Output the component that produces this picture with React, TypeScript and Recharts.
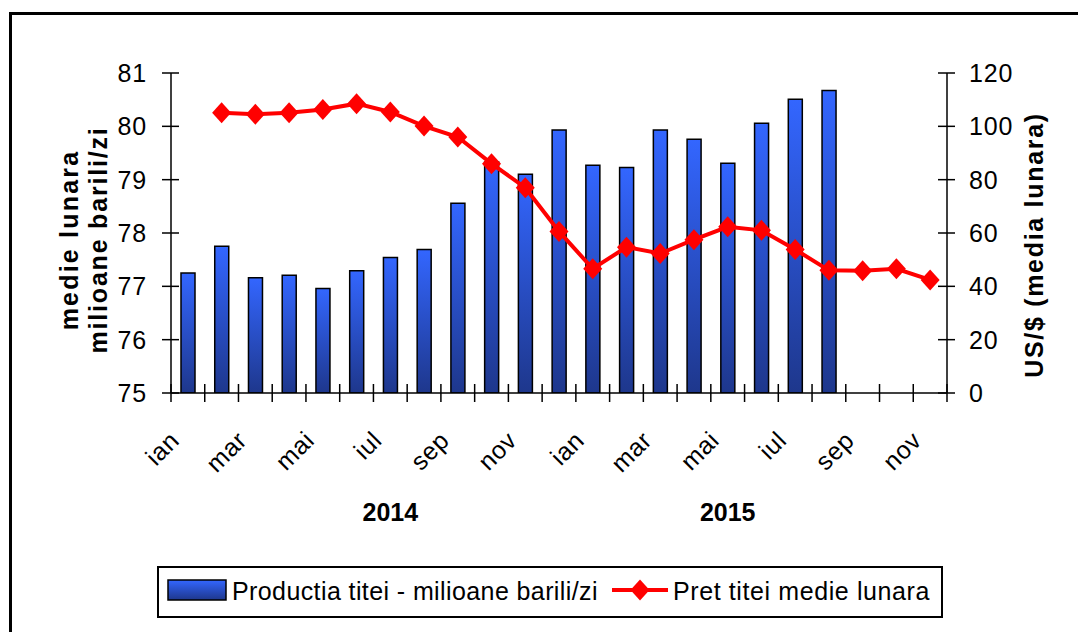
import React from 'react';
import { ComposedChart, Bar, Line, XAxis, YAxis } from 'recharts';

const months = ['ian', 'feb', 'mar', 'apr', 'mai', 'iun', 'iul', 'aug', 'sep', 'oct', 'nov', 'dec',
  'ian', 'feb', 'mar', 'apr', 'mai', 'iun', 'iul', 'aug', 'sep', 'oct', 'nov'];
const production = [77.25, 77.75, 77.16, 77.21, 76.96, 77.29, 77.54, 77.69, 78.56, 79.33, 79.1, 79.93,
  79.27, 79.23, 79.93, 79.76, 79.31, 80.06, 80.51, 80.67, null, null, null];
const price = [null, 105.1, 104.5, 105.1, 106.3, 108.5, 105.4, 100.1, 96.0, 86.0, 77.0, 60.6,
  46.6, 54.7, 52.3, 57.5, 62.3, 61.0, 53.8, 46.0, 45.8, 46.6, 42.4];
const years = ['2014', '2015'];
const yearCategory = [6, 16];
const leftTicks = [75, 76, 77, 78, 79, 80, 81];
const rightTicks = [0, 20, 40, 60, 80, 100, 120];

const seriesNames = ['Productia titei - milioane barili/zi', 'Pret titei medie lunara'];

const data = months.map((m, i) => ({ idx: i, month: m, production: production[i], price: price[i] }));

const W = 1078;
const H = 632;
const LEFT_W = 171;
const RIGHT_W = 131;
const TOP = 73;
const XAXIS_H = 239;
const PLOT_W = W - LEFT_W - RIGHT_W;
const BAND = PLOT_W / months.length;
const FONT = "'Liberation Sans', Arial, sans-serif";

const XTick = (props: any) => {
  const { x, y, payload } = props;
  const i = payload.value as number;
  const half = BAND / 2;
  return (
    <g>
      <line x1={x - half} x2={x - half} y1={y - 9} y2={y + 9} stroke="#000" strokeWidth={1.5} />
      {i === months.length - 1 && (
        <line x1={x + half} x2={x + half} y1={y - 9} y2={y + 9} stroke="#000" strokeWidth={1.5} />
      )}
      {i % 2 === 0 && (
        <text
          x={x - 7}
          y={y + 49}
          transform={`rotate(-45 ${x - 7} ${y + 49})`}
          textAnchor="end"
          fontFamily={FONT}
          fontSize={25}
          letterSpacing={0.6}
          fill="#000"
        >
          {months[i]}
        </text>
      )}
    </g>
  );
};

const LeftTick = (props: any) => {
  const { x, y, payload } = props;
  const ax = x + 24;
  return (
    <g>
      <line x1={ax - 9} x2={ax + 8} y1={y} y2={y} stroke="#000" strokeWidth={1.5} />
      <text x={x} y={y} dy="0.36em" textAnchor="end" fontFamily={FONT} fontSize={25} letterSpacing={0.8} fill="#000">
        {payload.value}
      </text>
    </g>
  );
};

const RightTick = (props: any) => {
  const { x, y, payload } = props;
  const ax = x - 22;
  return (
    <g>
      <line x1={ax - 9} x2={ax + 8} y1={y} y2={y} stroke="#000" strokeWidth={1.5} />
      <text x={x} y={y} dy="0.36em" textAnchor="start" fontFamily={FONT} fontSize={25} letterSpacing={0.8} fill="#000">
        {payload.value}
      </text>
    </g>
  );
};

const Diamond = (props: any) => {
  const { cx, cy, value } = props;
  if (value == null || cx == null || cy == null) return <g />;
  const hw = 9.5;
  const hh = 10.5;
  return (
    <polygon
      points={`${cx},${cy - hh} ${cx + hw},${cy} ${cx},${cy + hh} ${cx - hw},${cy}`}
      fill="#FF0000"
      stroke="none"
    />
  );
};

const LeftTitle = (props: any) => {
  const { viewBox } = props;
  const cy = viewBox.y + viewBox.height / 2 + 7;
  return (
    <g>
      <text x={78} y={cy} transform={`rotate(-90 78 ${cy})`} textAnchor="middle" fontFamily={FONT}
        fontWeight="bold" fontSize={25} letterSpacing={2.2} fill="#000">medie lunara</text>
      <text x={107} y={cy} transform={`rotate(-90 107 ${cy})`} textAnchor="middle" fontFamily={FONT}
        fontWeight="bold" fontSize={25} letterSpacing={1.8} fill="#000">milioane barili/zi</text>
    </g>
  );
};

const RightTitle = (props: any) => {
  const { viewBox } = props;
  const cy = viewBox.y + viewBox.height / 2 + 12;
  const x = 1043;
  return (
    <text x={x} y={cy} transform={`rotate(-90 ${x} ${cy})`} textAnchor="middle" fontFamily={FONT}
      fontWeight="bold" fontSize={25} letterSpacing={1.7} fill="#000">US/$ (media lunara)</text>
  );
};

const YearLabels = (props: any) => {
  const { viewBox } = props;
  return (
    <g>
      {years.map((yr, k) => (
        <text key={yr} x={viewBox.x + (yearCategory[k] + 0.5) * BAND} y={viewBox.y + 128} textAnchor="middle"
          fontFamily={FONT} fontWeight="bold" fontSize={25} fill="#000">{yr}</text>
      ))}
    </g>
  );
};

const LegendBox = () => (
  <svg width={786} height={52} style={{ display: 'block' }}>
    <defs>
      <linearGradient id="legGrad" x1="0" y1="0" x2="0" y2="1">
        <stop offset="0%" stopColor="#3366FF" />
        <stop offset="100%" stopColor="#1E378C" />
      </linearGradient>
    </defs>
    <rect x={1} y={1} width={784} height={50} fill="#fff" stroke="#000" strokeWidth={2} />
    <rect x={11} y={14} width={58} height={20} fill="url(#legGrad)" stroke="#000" strokeWidth={1.5} />
    <text x={75} y={34} fontFamily={FONT} fontSize={25} letterSpacing={0.4} fill="#000">{seriesNames[0]}</text>
    <line x1={455} x2={511} y1={24} y2={24} stroke="#FF0000" strokeWidth={4} />
    <polygon points="483,13.5 492.5,24 483,34.5 473.5,24" fill="#FF0000" />
    <text x={516} y={34} fontFamily={FONT} fontSize={25} letterSpacing={0.6} fill="#000">{seriesNames[1]}</text>
  </svg>
);

export default function App() {
  return (
    <div style={{ position: 'absolute', left: 0, top: 0, width: W, height: H, overflow: 'hidden', background: '#fff' }}>
      <div style={{ position: 'absolute', left: 9, top: 12, width: 1200, height: 800, border: '3px solid #000', boxSizing: 'border-box' }} />
      <div style={{ position: 'absolute', left: 0, top: 0 }}>
        <ComposedChart width={W} height={H} data={data} margin={{ top: TOP, right: 0, bottom: 0, left: 0 }} barCategoryGap="20%">
          <defs>
            <linearGradient id="barGrad" x1="0" y1="0" x2="0" y2="1">
              <stop offset="0%" stopColor="#3366FF" />
              <stop offset="100%" stopColor="#1E378C" />
            </linearGradient>
          </defs>
          <XAxis dataKey="idx" type="category" height={XAXIS_H} interval={0} tickSize={0} tickMargin={0}
            tickLine={false} axisLine={{ stroke: '#000', strokeWidth: 1.5 }} tick={<XTick />}
            label={{ content: <YearLabels /> }} />
          <YAxis yAxisId="left" orientation="left" width={LEFT_W} domain={[75, 81]} ticks={leftTicks}
            allowDataOverflow interval={0} tickSize={0} tickMargin={24} tickLine={false}
            axisLine={{ stroke: '#000', strokeWidth: 1.5 }} tick={<LeftTick />}
            label={{ content: <LeftTitle /> }} />
          <YAxis yAxisId="right" orientation="right" width={RIGHT_W} domain={[0, 120]} ticks={rightTicks}
            interval={0} tickSize={0} tickMargin={22} tickLine={false}
            axisLine={{ stroke: '#000', strokeWidth: 1.5 }} tick={<RightTick />}
            label={{ content: <RightTitle /> }} />
          <Bar yAxisId="left" dataKey="production" name={seriesNames[0]} barSize={14} fill="url(#barGrad)"
            stroke="#000" strokeWidth={1.5} isAnimationActive={false} />
          <Line yAxisId="right" dataKey="price" name={seriesNames[1]} stroke="#FF0000" strokeWidth={4}
            dot={<Diamond />} activeDot={false} connectNulls={false} isAnimationActive={false} />
        </ComposedChart>
      </div>
      <div style={{ position: 'absolute', left: 157, top: 566 }}>
        <LegendBox />
      </div>
    </div>
  );
}
